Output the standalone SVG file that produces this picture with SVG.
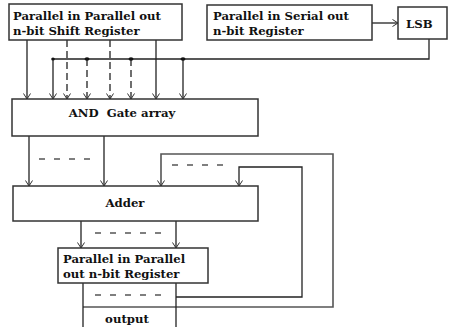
<svg xmlns="http://www.w3.org/2000/svg" width="452" height="327" viewBox="0 0 452 327">
<style>
.box{fill:#fff;stroke:#333;stroke-width:1.5}
.t{font-family:"DejaVu Serif","Liberation Serif",serif;font-weight:bold;font-size:11.7px;fill:#111}
.ln{fill:none;stroke:#222;stroke-width:1.3}
.dl{fill:none;stroke:#222;stroke-width:1.3;stroke-dasharray:7,4}
.gr{fill:none;stroke:#555;stroke-width:1.6}
.dsh{fill:none;stroke:#555;stroke-width:1.3;stroke-dasharray:6,9}
</style>
<defs>
<marker id="ah" viewBox="-7 -5 8 10" refX="0" refY="0" markerWidth="8" markerHeight="10" markerUnits="userSpaceOnUse" orient="auto">
<path d="M-5.5,-3.5 L0,0 L-5.5,3.5" fill="none" stroke="#333" stroke-width="1" stroke-dasharray="none"/>
</marker>
</defs>
<rect width="452" height="327" fill="#fff"/>
<g id="connectors">
<line class="ln" x1="27" y1="40" x2="27" y2="99" marker-end="url(#ah)"/>
<line class="dl" x1="67" y1="40" x2="67" y2="99" marker-end="url(#ah)"/>
<line class="dl" x1="110" y1="40" x2="110" y2="99" marker-end="url(#ah)"/>
<line class="ln" x1="156" y1="40" x2="156" y2="99" marker-end="url(#ah)"/>
<polyline class="ln" points="429,39 429,59 53,59"/>
<line class="ln" x1="53" y1="59" x2="53" y2="99" marker-end="url(#ah)"/>
<line class="dl" x1="87" y1="59" x2="87" y2="99" marker-end="url(#ah)"/>
<line class="dl" x1="131" y1="59" x2="131" y2="99" marker-end="url(#ah)"/>
<line class="ln" x1="183" y1="59" x2="183" y2="99" marker-end="url(#ah)"/>
<ellipse cx="53" cy="59" rx="1.8" ry="1.6" fill="#111"/>
<ellipse cx="87" cy="59" rx="2.5" ry="1.8" fill="#111"/>
<ellipse cx="131" cy="59" rx="2.5" ry="1.8" fill="#111"/>
<ellipse cx="183" cy="59" rx="2.5" ry="1.8" fill="#111"/>
<line class="ln" x1="372" y1="23" x2="398" y2="23" marker-end="url(#ah)"/>
<line class="ln" x1="29" y1="136" x2="29" y2="186" marker-end="url(#ah)"/>
<line class="ln" x1="104" y1="136" x2="104" y2="186" marker-end="url(#ah)"/>
<line class="dsh" x1="39" y1="159" x2="90" y2="159"/>
<polyline class="gr" points="83,307 333,307 333,154 161,154 161,186" marker-end="url(#ah)"/>
<line class="dsh" x1="172" y1="165" x2="223" y2="165"/>
<polyline class="ln" points="176,297 302,297 302,167 239,167 239,186" marker-end="url(#ah)"/>
<line class="ln" x1="81" y1="221" x2="81" y2="248" marker-end="url(#ah)"/>
<line class="ln" x1="176" y1="221" x2="176" y2="248" marker-end="url(#ah)"/>
<line class="dsh" x1="95" y1="233" x2="161" y2="233"/>
<line class="ln" x1="83" y1="283" x2="83" y2="327"/>
<line class="ln" x1="176" y1="283" x2="176" y2="327"/>
<line class="dsh" x1="95" y1="295" x2="161" y2="295"/>
</g>
<g id="shift-register">
<rect class="box" x="9" y="4" width="173" height="36"/>
<text class="t" x="13" y="20">Parallel in Parallel out</text>
<text class="t" x="13" y="35">n-bit Shift Register</text>
</g>
<g id="serial-register">
<rect class="box" x="207" y="5" width="165" height="35"/>
<text class="t" x="213" y="20">Parallel in Serial out</text>
<text class="t" x="213" y="35">n-bit Register</text>
</g>
<g id="lsb">
<rect class="box" x="398" y="7" width="49" height="32"/>
<text class="t" x="406" y="28">LSB</text>
</g>
<g id="and-array">
<rect class="box" x="12" y="99" width="246" height="37"/>
<text class="t" x="122" y="117" text-anchor="middle" xml:space="preserve">AND  Gate array</text>
</g>
<g id="adder">
<rect class="box" x="13" y="186" width="245" height="35"/>
<text class="t" x="125" y="207" text-anchor="middle">Adder</text>
</g>
<g id="output-register">
<rect class="box" x="58" y="248" width="150" height="35"/>
<text class="t" x="63" y="263">Parallel in Parallel</text>
<text class="t" x="63" y="278">out n-bit Register</text>
</g>
<g id="output">
<text class="t" x="127" y="323" text-anchor="middle">output</text>
</g>
</svg>
